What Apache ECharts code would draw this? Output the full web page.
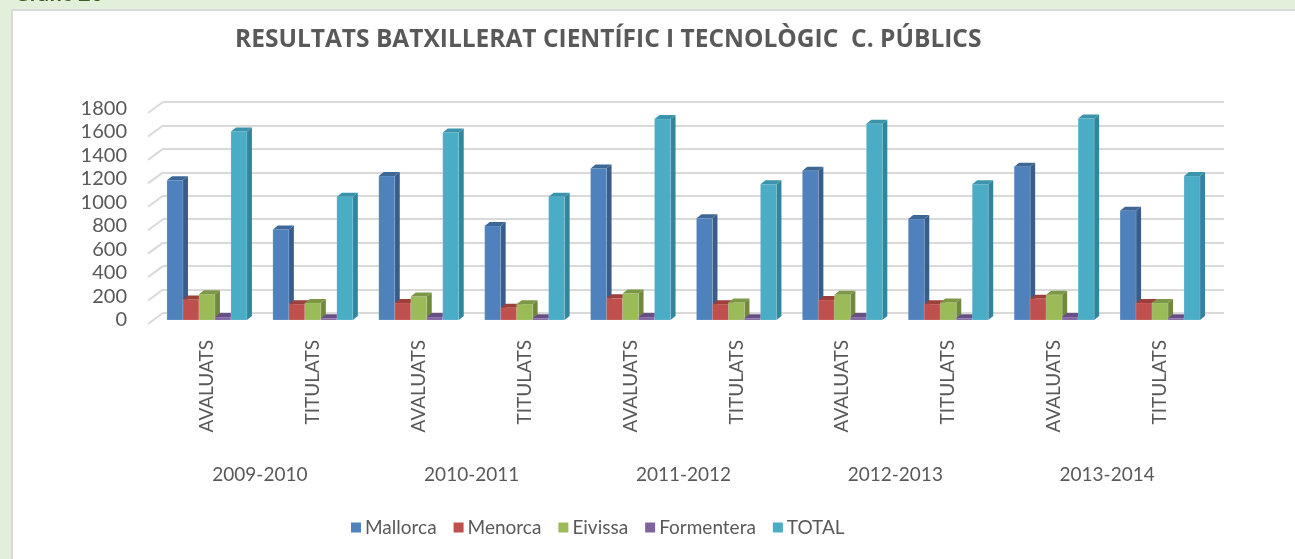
<!DOCTYPE html>
<html>
<head>
<meta charset="utf-8">
<script src="https://cdn.jsdelivr.net/npm/echarts@6/dist/echarts.min.js"></script>
<style>
  html, body { margin: 0; padding: 0; background: #e2efda; }
  #chart { width: 1295px; height: 559px; }
</style>
</head>
<body>
<div id="chart"></div>
<script>
// Categories: each school year has "avaluats" and "titulats"
const categories = ['AVALUATS', 'TITULATS', 'AVALUATS', 'TITULATS', 'AVALUATS', 'TITULATS', 'AVALUATS', 'TITULATS', 'AVALUATS', 'TITULATS'];
const years = ['2009-2010', '2010-2011', '2011-2012', '2012-2013', '2013-2014'];

// Students per island
const mallorca   = [1190, 770, 1225, 800, 1290, 865, 1270, 860, 1305, 930];
const menorca    = [175, 135, 145, 105, 185, 135, 170, 135, 180, 145];
const eivissa    = [220, 145, 200, 135, 225, 150, 215, 150, 215, 145];
const formentera = [25, 15, 25, 15, 25, 15, 25, 15, 25, 15];
const total      = [1605, 1050, 1595, 1050, 1710, 1155, 1670, 1155, 1715, 1225];

// Value axis ticks
const yTicks = [0, 200, 400, 600, 800, 1000, 1200, 1400, 1600, 1800];

const seriesDefs = [
  { name: 'Mallorca',   data: mallorca,   front: '#4f81bd', side: '#385d8a', top: '#3d6797' },
  { name: 'Menorca',    data: menorca,    front: '#c0504d', side: '#8c3836', top: '#9e3f3c' },
  { name: 'Eivissa',    data: eivissa,    front: '#9bbb59', side: '#71893f', top: '#7c9846' },
  { name: 'Formentera', data: formentera, front: '#8064a2', side: '#5c4776', top: '#674f85' },
  { name: 'TOTAL',      data: total,      front: '#4bacc6', side: '#31859c', top: '#3994ac' }
];

const FONT = 'Lato, "Open Sans", sans-serif';
const TXT = '#595959';
const DEPTH_X = 5, DEPTH_Y = 4;   // extrusion of the 3D columns
const GROUP_RATIO = 0.755;        // share of a category band covered by the column group

function columnRenderer(pos, def) {
  return function (params, api) {
    const idx = api.value(0);
    const val = api.value(1);
    const base = api.coord([idx, 0]);
    const topPt = api.coord([idx, val]);
    const band = api.size([1, 0])[0];
    const groupW = band * GROUP_RATIO;
    const w = groupW / seriesDefs.length;
    const x = base[0] - groupW / 2 + pos * w;
    const y0 = base[1];
    const y1 = topPt[1];
    return {
      type: 'group',
      children: [
        { type: 'polygon', shape: { points: [[x + w, y1], [x + w + DEPTH_X, y1 - DEPTH_Y], [x + w + DEPTH_X, y0 - DEPTH_Y], [x + w, y0]] },
          style: { fill: def.side } },
        { type: 'rect', shape: { x: x, y: y1, width: w, height: y0 - y1 },
          style: { fill: def.front, stroke: 'rgba(255,255,255,0.25)', lineWidth: 0.6 } },
        { type: 'polygon', shape: { points: [[x, y1], [x + DEPTH_X, y1 - DEPTH_Y], [x + w + DEPTH_X, y1 - DEPTH_Y], [x + w, y1]] },
          style: { fill: def.top } }
      ]
    };
  };
}

const columnSeries = seriesDefs.map((def, pos) => ({
  name: def.name,
  type: 'custom',
  xAxisIndex: 0,
  yAxisIndex: 0,
  itemStyle: { color: def.front },
  renderItem: columnRenderer(pos, def),
  data: def.data.map((v, i) => [i, v]),
  z: 5
}));

// Short slanted segments of the left wall joining each gridline to the value labels
const wallSeries = {
  type: 'custom',
  xAxisIndex: 1,
  yAxisIndex: 1,
  silent: true,
  legendHoverLink: false,
  renderItem: function (params, api) {
    const p = api.coord([0, api.value(0)]);
    return {
      type: 'line',
      shape: { x1: p[0] - 15, y1: p[1] + 11, x2: p[0], y2: p[1] },
      style: { stroke: '#d9d9d9', lineWidth: 2 }
    };
  },
  data: yTicks.map(v => [v]),
  z: 1
};

const chart = echarts.init(document.getElementById('chart'), null, { renderer: 'canvas' });
chart.setOption({
  backgroundColor: '#e2efda',
  animation: false,
  textStyle: { fontFamily: FONT },
  graphic: [
    { type: 'text', left: 14, top: -17, z: 0,
      style: { text: 'Gràfic 20', font: 'bold 22px ' + FONT, fill: '#3b5d22' } },
    { type: 'rect', left: 11, top: 9, z: -10,
      shape: { width: 1300, height: 600 },
      style: { fill: '#ffffff', stroke: '#d9d9d9', lineWidth: 2 } }
  ],
  title: {
    text: 'RESULTATS BATXILLERAT CIENTÍFIC I TECNOLÒGIC  C. PÚBLICS',
    left: 230,
    top: 23,
    textStyle: { fontFamily: '"Open Sans", Lato, sans-serif', fontWeight: 'bold', fontSize: 24.5, color: TXT }
  },
  legend: {
    bottom: 17,
    left: 346,
    icon: 'rect',
    itemWidth: 10,
    itemHeight: 10,
    itemGap: 17,
    textStyle: { fontFamily: FONT, fontSize: 19, color: TXT, padding: [0, 0, 0, -1] },
    data: seriesDefs.map(d => d.name)
  },
  grid: [
    { left: 154, right: 82, top: 108.5, bottom: 239 },
    { left: 163, right: 71, top: 102, bottom: 246 }
  ],
  xAxis: [
    {
      type: 'category', gridIndex: 0, data: categories,
      axisLine: { show: false }, axisTick: { show: false },
      axisLabel: { rotate: 90, margin: 20, fontFamily: FONT, fontSize: 19, color: TXT, interval: 0 }
    },
    {
      type: 'value', gridIndex: 1, min: 0, max: 1, show: false
    },
    {
      type: 'category', gridIndex: 0, data: years, position: 'bottom', offset: 145,
      axisLine: { show: false }, axisTick: { show: false }, splitLine: { show: false },
      axisLabel: { margin: 0, fontFamily: FONT, fontSize: 19, color: TXT, interval: 0 }
    }
  ],
  yAxis: [
    {
      type: 'value', gridIndex: 0, min: 0, max: 1800, interval: 200,
      axisLine: { show: false }, axisTick: { show: false }, splitLine: { show: false },
      axisLabel: { margin: 27, fontFamily: FONT, fontSize: 20, color: TXT, formatter: v => String(v) }
    },
    {
      type: 'value', gridIndex: 1, min: 0, max: 1800, interval: 200,
      axisLine: { show: false }, axisTick: { show: false },
      axisLabel: { show: false },
      splitLine: { show: true, lineStyle: { color: '#d9d9d9', width: 2 } }
    }
  ],
  series: [wallSeries].concat(columnSeries)
});
</script>
</body>
</html>
